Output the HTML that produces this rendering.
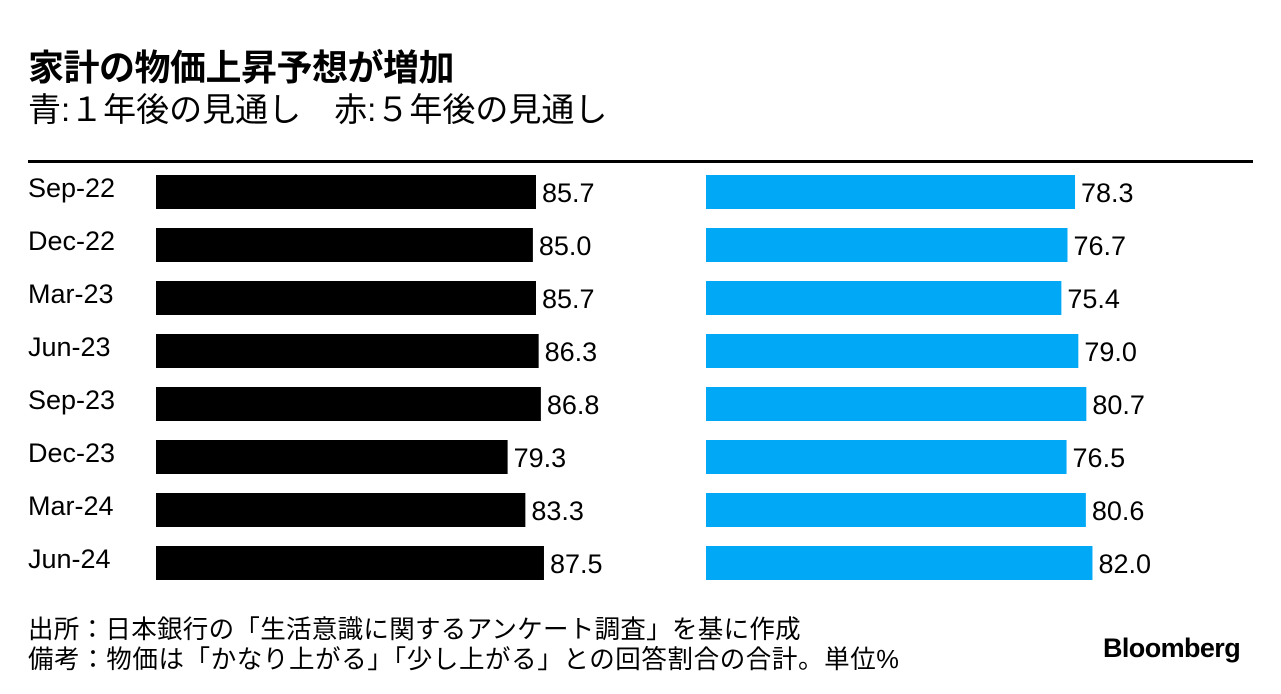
<!DOCTYPE html>
<html><head><meta charset="utf-8"><style>
body{margin:0;background:#fff;width:1281px;height:694px;overflow:hidden;font-family:"Liberation Sans","Noto Sans CJK JP",sans-serif;color:#000}
.t{position:absolute;white-space:nowrap}
</style></head><body>
<div class="t" style="left:28px;top:39px;font-size:36px;font-weight:bold;letter-spacing:-0.5px">家計の物価上昇予想が増加</div>
<div class="t" style="left:28px;top:83px;font-size:33px">青:１年後の見通し　赤:５年後の見通し</div>
<div class="t" style="left:28px;top:609px;font-size:25.5px;letter-spacing:0.3px">出所：日本銀行の「生活意識に関するアンケート調査」を基に作成</div>
<div class="t" style="left:28px;top:639px;font-size:25.5px;letter-spacing:0.6px">備考：物価は「かなり上がる」「少し上がる」との回答割合の合計。単位%</div>
<div class="t" style="left:1103px;top:633px;font-size:27px;font-weight:bold;letter-spacing:-0.6px">Bloomberg</div>
<svg id="c" width="1281" height="694" style="position:absolute;left:0;top:0"></svg>
<script>
const categories=["Sep-22","Dec-22","Mar-23","Jun-23","Sep-23","Dec-23","Mar-24","Jun-24"];
const oneYear=[85.7,85.0,85.7,86.3,86.8,79.3,83.3,87.5];
const fiveYear=[78.3,76.7,75.4,79.0,80.7,76.5,80.6,82.0];
const NS="http://www.w3.org/2000/svg",svg=document.getElementById('c');
function mk(t,a){const e=document.createElementNS(NS,t);for(const k in a)e.setAttribute(k,a[k]);svg.appendChild(e);return e;}
const rule=mk('rect',{x:28,y:160,width:1225,height:3,fill:'#000'});


const y=i=>175+i*53;
const xL=v=>v*4.434, xR=v=>v*4.713;
categories.forEach((c,i)=>{
 const l=mk('text',{x:28,y:y(i)+22,'font-size':27});l.textContent=c;
 
 
 const b1=mk('rect',{x:156,y:y(i),width:xL(oneYear[i]),height:34,fill:'#000'});
 
 
 const v1=mk('text',{x:156+xL(oneYear[i])+6,y:y(i)+27,'font-size':27});v1.textContent=oneYear[i].toFixed(1);
 
 
 const b2=mk('rect',{x:706,y:y(i),width:xR(fiveYear[i]),height:34,fill:'#00a8f5'});
 
 
 const v2=mk('text',{x:706+xR(fiveYear[i])+6,y:y(i)+27,'font-size':27});v2.textContent=fiveYear[i].toFixed(1);
 
 
});
</script>
</body></html>
